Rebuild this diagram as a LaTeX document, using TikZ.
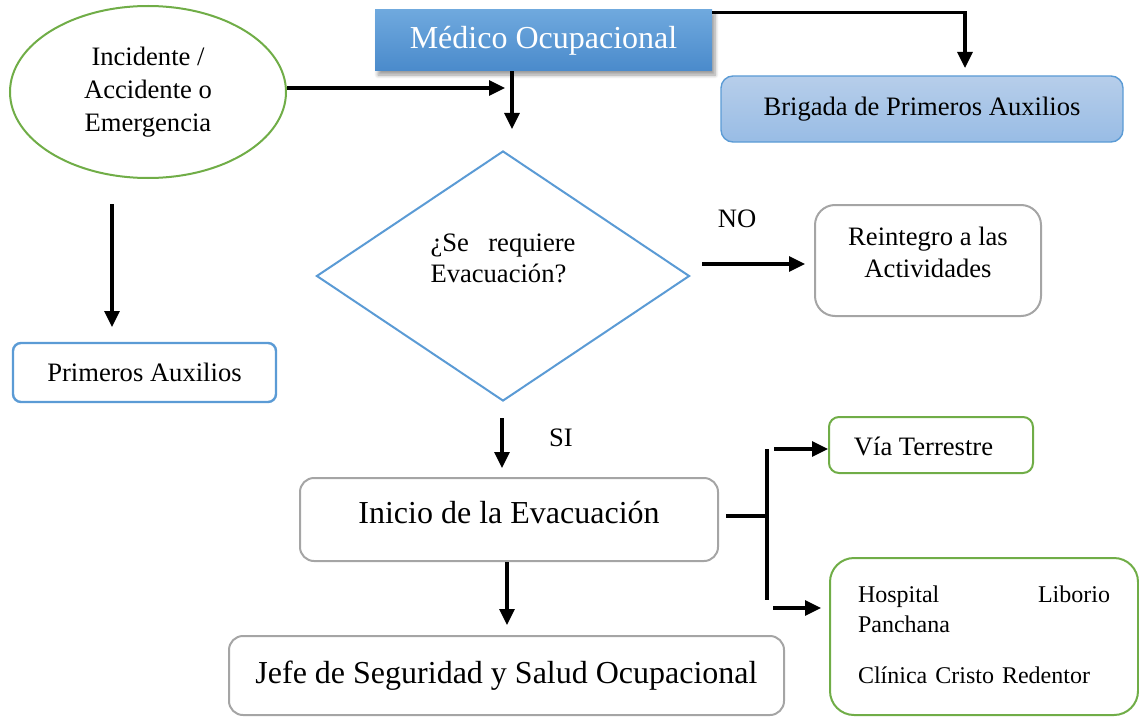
\documentclass[tikz,border=0pt]{standalone}
\usepackage{fontspec}
\setmainfont{Liberation Serif}
\usetikzlibrary{shapes.geometric,arrows.meta,shadows.blur}
\definecolor{verde}{HTML}{70AD47}
\definecolor{azul}{HTML}{5B9BD5}
\definecolor{azulclaro}{HTML}{6FA9DE}
\definecolor{azuloscuro}{HTML}{4A8ACB}
\definecolor{celeste}{HTML}{B7CEEA}
\definecolor{celesteb}{HTML}{98BCE5}
\definecolor{gris}{HTML}{A5A5A5}
\newcommand{\txtnormal}{\fontsize{13.3}{15.5}\selectfont}
\newcommand{\txtgrande}{\fontsize{16}{19}\selectfont}
\tikzset{
  caja/.style={draw, rectangle, inner sep=0pt, align=center, font=\txtnormal},
  flecha/.style={line width=1.6pt, -{Triangle[length=8pt,width=7.5pt]}},
  linea/.style={line width=1.6pt}
}
\begin{document}
\begin{tikzpicture}[x=0.5pt,y=-0.5pt]
\useasboundingbox (0,0) rectangle (1139,717);

\node[ellipse, draw=verde, line width=1pt, minimum width=138pt, minimum height=86pt,
      inner sep=0pt, align=center, font=\fontsize{13.3}{16.5}\selectfont] (evento) at (148,92)
      {Incidente /\\Accidente o\\Emergencia};
\node[caja, draw=none, minimum width=168.5pt, minimum height=30.5pt,
      top color=azulclaro, bottom color=azuloscuro, text=white, font=\txtgrande,
      blur shadow={shadow xshift=1.5pt, shadow yshift=-2pt, shadow blur steps=6}] (medico) at (543.5,40.5)
      {Médico Ocupacional};
\node[caja, draw=azul, line width=0.7pt, rounded corners=6pt, minimum width=201pt, minimum height=33pt,
      top color=celeste, bottom color=celesteb] (brigada) at (922,109) {Brigada de Primeros Auxilios};
\node[diamond, draw=azul, line width=1pt, minimum width=186.5pt, minimum height=125pt,
      inner sep=0pt, label={[yshift=9pt]center:\parbox{72.5pt}{\txtnormal ¿Se\hfill requiere\\Evacuación?}}]
      (pregunta) at (503,276) {};
\node[caja, draw=gris, line width=1pt, rounded corners=10pt, minimum width=113pt, minimum height=55.5pt,
      label={[align=center, font=\fontsize{13.3}{16}\selectfont, yshift=4pt]center:Reintegro a las\\Actividades}]
      (reintegro) at (928,260.5) {};
\node[caja, draw=azul, line width=1.2pt, rounded corners=4pt, minimum width=131.5pt,
      minimum height=29.5pt] (primeros) at (144.5,372.5) {Primeros Auxilios};
\node[caja, draw=gris, line width=1pt, rounded corners=7pt, minimum width=209pt, minimum height=41.5pt,
      label={[font=\txtgrande, yshift=3.5pt]center:Inicio de la Evacuación}] (inicio) at (509,519.5) {};
\node[caja, draw=gris, line width=1pt, rounded corners=7pt, minimum width=277.5pt,
      minimum height=39.5pt, font=\txtgrande] (jefe) at (506.5,675.5) {Jefe de Seguridad y Salud Ocupacional};
\node[caja, draw=verde, line width=1pt, rounded corners=5pt, minimum width=102pt, minimum height=28pt,
      label={[font=\txtnormal, xshift=-3.75pt, yshift=-0.5pt]center:Vía Terrestre}] (terrestre) at (931,445) {};
\node[caja, draw=verde, line width=1pt, rounded corners=12pt, minimum width=154pt, minimum height=78.5pt,
      label={[text width=126pt, align=left, font=\fontsize{12}{15}\selectfont, yshift=1pt]center:%
      Hospital\hfill Liborio\\Panchana\\[10.5pt]Clínica Cristo Redentor}] (hospital) at (984,636.5) {};

\node[font=\txtnormal] (no) at (737,219) {NO};
\node[font=\txtnormal] (si) at (561,438) {SI};

\coordinate (p1) at (505,88);
\coordinate (p2) at (512,129);
\coordinate (p3) at (965,68);
\coordinate (p4a) at (112,204);
\coordinate (p4b) at (112,327);
\coordinate (p5a) at (502,418);
\coordinate (p5b) at (502,468);
\coordinate (p6a) at (702,264);
\coordinate (p6b) at (805,264);
\coordinate (p7) at (507,625);
\coordinate (r1) at (767,516);
\coordinate (r2) at (767,449);
\coordinate (r3) at (767,600);
\coordinate (t1) at (774,449);
\coordinate (t2) at (773,608);

\draw[flecha] (evento.east |- p1) -- (p1);
\draw[flecha] (medico.south -| p2) -- (p2);
\draw[flecha] ([yshift=-1.5pt]medico.north east) -| (p3);
\draw[flecha] (p4a) -- (p4b);
\draw[flecha] (p5a) -- (p5b);
\draw[flecha] (p6a) -- (p6b);
\draw[flecha] (inicio.south -| p7) -- (p7);
\draw[linea] ([xshift=3.5pt]inicio.east |- r1) -- (r1);
\draw[linea] (r2) -- (r3);
\draw[flecha] (t1) -- (terrestre.west |- t1);
\draw[flecha] (t2) -- ([xshift=-4pt]hospital.west |- t2);
\end{tikzpicture}
\end{document}
